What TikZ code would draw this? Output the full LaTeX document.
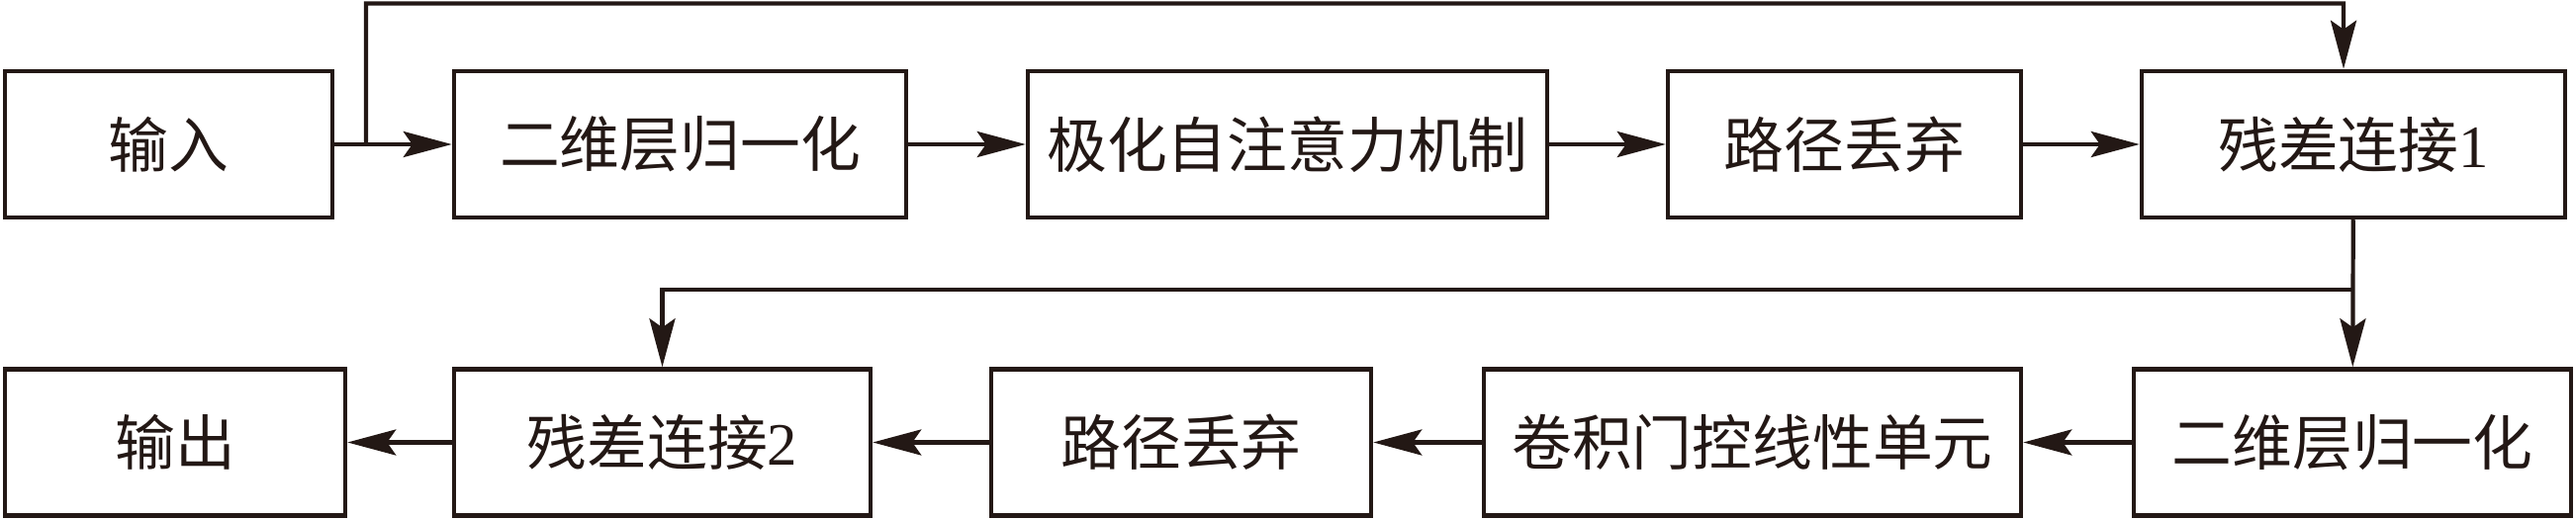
\documentclass[tikz,border=0pt]{standalone}
\usepackage{fontspec}
\setmainfont{Liberation Serif}
\newfontfamily\cjk{Noto Sans CJK SC}
\usepackage{xcolor}
\usetikzlibrary{arrows.meta,positioning}
\definecolor{inkdark}{RGB}{35,24,21}
\tikzset{
	thick,
	>={Stealth[length=4.9mm,width=2.6mm,inset=0.9mm]},
	block/.style = {
			draw            = inkdark,
			line width      = 0.045cm,
			rectangle,
			minimum height  = 1.48cm,
			inner sep       = 0pt,
			text            = inkdark,
			font            = \fontsize{17.3}{20}\selectfont,
		},
	flow/.style = {draw=inkdark, line width=0.042cm, ->},
}

\begin{document}
\begin{tikzpicture}[scale=1]
	\useasboundingbox (0,0) rectangle (26.04,-5.26);

	% Upper row (left to right)
	\node[block, minimum width=3.31cm] (in)   at (1.705,-1.46)  {\cjk 输入};
	\node[block, minimum width=4.57cm] (ln1)  at (6.875,-1.46)  {\cjk 二维层归一化};
	\node[block, minimum width=5.25cm] (psa)  at (13.015,-1.46) {\cjk 极化自注意力机制};
	\node[block, minimum width=3.57cm] (dp1)  at (18.645,-1.46) {\cjk 路径丢弃};
	\node[block, minimum width=4.28cm] (res1) at (23.79,-1.46)  {{\cjk 残差连接}1};

	% Lower row (right to left)
	\node[block, minimum width=4.42cm] (ln2)  at (23.78,-4.475)  {\cjk 二维层归一化};
	\node[block, minimum width=5.43cm] (cglu) at (17.715,-4.475) {\cjk 卷积门控线性单元};
	\node[block, minimum width=3.84cm] (dp2)  at (11.94,-4.475)  {\cjk 路径丢弃};
	\node[block, minimum width=4.21cm] (res2) at (6.695,-4.475)  {{\cjk 残差连接}2};
	\node[block, minimum width=3.44cm] (out)  at (1.77,-4.475)   {\cjk 输出};

	% Main flow
	\draw[flow] (in)   -- (ln1);
	\draw[flow] (ln1)  -- (psa);
	\draw[flow] (psa)  -- (dp1);
	\draw[flow] (dp1)  -- (res1);
	\draw[flow] (res1) -- (ln2);
	\draw[flow] (ln2)  -- (cglu);
	\draw[flow] (cglu) -- (dp2);
	\draw[flow] (dp2)  -- (res2);
	\draw[flow] (res2) -- (out);

	% Skip connections
	\coordinate (skipa) at (3.70,-1.46);
	\coordinate (skipb) at (23.79,-2.93);
	\draw[flow] (skipa) |- (23.69,-0.035) -- ([xshift=-0.1cm]res1.north);
	\draw[flow] (skipb) -| (res2.north);
\end{tikzpicture}
\end{document}
